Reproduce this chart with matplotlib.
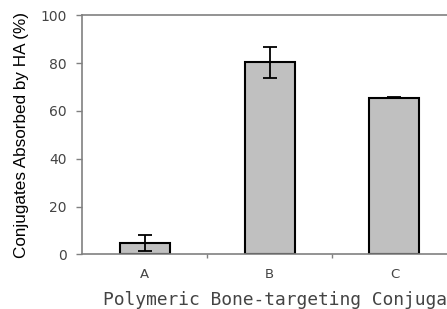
import matplotlib
matplotlib.use("Agg")
import matplotlib.pyplot as plt

# values
categories = ["A", "B", "C"]
absorbed = [4.8, 80.3, 65.5]
errors = [3.3, 6.4, 0.3]

fig = plt.figure(figsize=(4.47, 3.09), dpi=100)
# plot area runs past the right edge of the picture (it was cropped)
ax = fig.add_axes([82 / 447, 54.7 / 309, 375 / 447, 239 / 309])

x = range(len(categories))
ax.bar(x, absorbed, width=0.4, color="#c0c0c0", edgecolor="black", linewidth=1.5, zorder=2)
ax.errorbar(x, absorbed, yerr=errors, fmt="none", ecolor="black", elinewidth=1.3,
            capsize=5, capthick=1.3, zorder=3)

ax.set_xlim(-0.5, 2.5)
ax.set_ylim(0, 100)
ax.set_yticks([0, 20, 40, 60, 80, 100])
ax.set_xticks(list(x))
ax.set_xticklabels(categories)
ax.set_xticks([0.5, 1.5], minor=True)

for side in ["left", "bottom", "top", "right"]:
    ax.spines[side].set_color("#808080")
    ax.spines[side].set_linewidth(1.2)

ax.tick_params(axis="y", direction="out", length=4.3, width=1, color="#808080",
               pad=6.5, labelsize=10, labelcolor="#444444")
ax.tick_params(axis="x", which="major", length=0, pad=10, labelsize=9.5, labelcolor="#444444")
ax.tick_params(axis="x", which="minor", direction="out", length=3, width=1, color="#808080")

fig.text(22 / 447, (309 - 135) / 309, "Conjugates Absorbed by HA (%)", fontsize=12.3,
         family="Liberation Sans", rotation=90, ha="center", va="center")

# the axis title is cut off in the reference picture; keep the visible part
fig.text(103 / 447, 4 / 309, "Polymeric Bone-targeting Conjuga", fontsize=12.9,
         family="DejaVu Sans Mono", color="#444444", ha="left", va="baseline")

fig.savefig("out.png", dpi=100)
